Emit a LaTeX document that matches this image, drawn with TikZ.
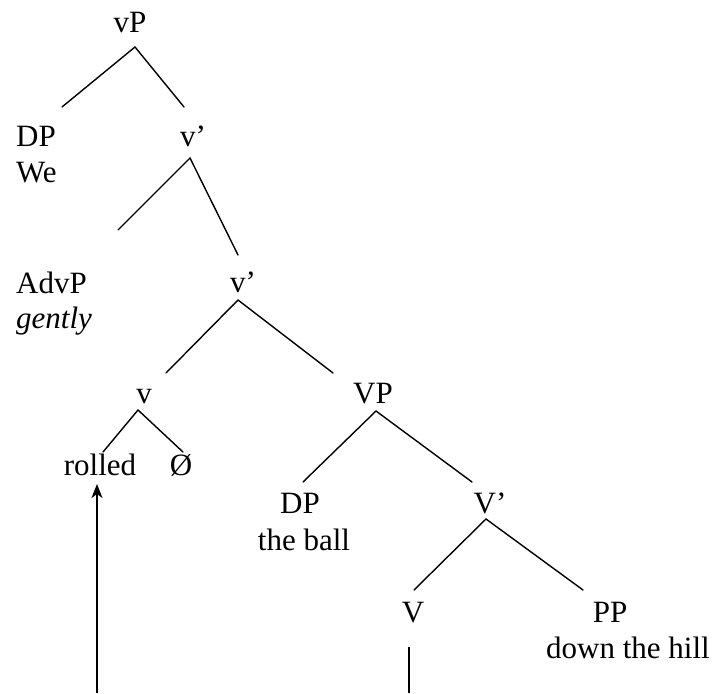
\documentclass[tikz,border=0pt]{standalone}
\usepackage{fontspec}
\setmainfont{Liberation Serif}
\usetikzlibrary{arrows.meta}
\begin{document}
\begin{tikzpicture}[x=1pt, y=-1pt,
  lbl/.style={inner sep=0pt, anchor=base, font=\fontsize{31}{36}\selectfont},
  lbll/.style={lbl, anchor=base west},
  branch/.style={line width=1.4pt, line cap=round},
  movearrow/.style={line width=1.4pt, -{Stealth[length=14pt, width=11pt, inset=4pt]}}]
\useasboundingbox (0,0) rectangle (717,693);

% labels
\node[lbl] (vP) at (130,33) {vP};
\node[lbll] (DPa) at (16,146) {DP};
\node[lbll] (We) at (16,182) {We};
\node[lbl] (vbar1) at (193,146) {v’};
\node[lbll] (AdvP) at (16,293) {AdvP};
\node[lbll] (gently) at (16,328) {\itshape gently};
\node[lbl] (vbar2) at (243,292) {v’};
\node[lbl] (v) at (144,403) {v};
\node[lbl] (rolled) at (100,475) {rolled};
\node[lbl] (null) at (181,475) {Ø};
\node[lbl] (VP) at (373,403) {VP};
\node[lbl] (DPb) at (300,513) {DP};
\node[lbl] (ball) at (304,550) {the ball};
\node[lbl] (Vbar) at (490,513) {V’};
\node[lbl] (V) at (413,622) {V};
\node[lbl] (PP) at (610,622) {PP};
\node[lbl] (hill) at (628,658) {down the hill};

% branch points
\coordinate (vP-t) at (135,47);
\coordinate (vP-l) at (62,107);
\coordinate (vP-r) at (184,107);
\coordinate (vbar1-t) at (190,158);
\coordinate (vbar1-l) at (118,230);
\coordinate (vbar1-r) at (238,255);
\coordinate (vbar2-t) at (238,300);
\coordinate (vbar2-l) at (166,373);
\coordinate (vbar2-r) at (333,373);
\coordinate (v-t) at (138,410);
\coordinate (v-l) at (103,452);
\coordinate (v-r) at (183,452);
\coordinate (VP-t) at (376,411);
\coordinate (VP-l) at (303,482);
\coordinate (VP-r) at (472,482);
\coordinate (Vbar-t) at (486,519);
\coordinate (Vbar-l) at (414,590);
\coordinate (Vbar-r) at (583,590);
\coordinate (V-top) at (409,647);
\coordinate (V-bot) at (409,693);
\coordinate (mv-bot) at (97,693);
\coordinate (mv-tip) at (97,484);

% branches
\draw[branch] (vP-l) -- (vP-t) -- (vP-r);
\draw[branch] (vbar1-l) -- (vbar1-t) -- (vbar1-r);
\draw[branch] (vbar2-l) -- (vbar2-t) -- (vbar2-r);
\draw[branch] (v-l) -- (v-t) -- (v-r);
\draw[branch] (VP-l) -- (VP-t) -- (VP-r);
\draw[branch] (Vbar-l) -- (Vbar-t) -- (Vbar-r);
\draw[line width=1.4pt] (V-top) -- (V-bot);

% head movement
\draw[movearrow] (mv-bot) -- (mv-tip);
\end{tikzpicture}
\end{document}
